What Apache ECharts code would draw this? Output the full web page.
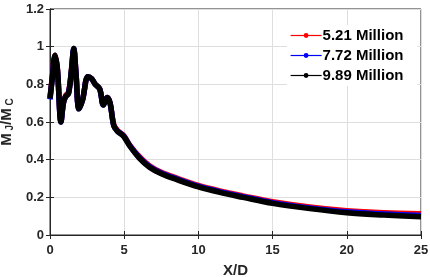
<!DOCTYPE html>
<html><head><meta charset="utf-8">
<script src="https://cdn.jsdelivr.net/npm/echarts@6/dist/echarts.min.js"></script>
<style>html,body{margin:0;padding:0;background:#fff}#c{width:430px;height:277px}</style>
</head><body><div id="c"></div>
<script>
var xVals = [0, 0.15, 0.34, 0.5, 0.74, 0.9, 1.05, 1.25, 1.45, 1.6, 1.75, 1.95, 2.2, 2.55, 2.8, 3.05, 3.35, 3.6, 3.85, 4.05, 4.3, 4.55, 4.8, 5.0, 5.4, 6, 6.7, 7.5, 8.5, 10, 11.5, 13, 15, 17.5, 20, 22.5, 25];
var red521 = [0.73, 0.835, 0.955, 0.88, 0.605, 0.70, 0.74, 0.76, 0.88, 0.985, 0.86, 0.675, 0.72, 0.84, 0.83, 0.80, 0.775, 0.695, 0.73, 0.70, 0.585, 0.555, 0.54, 0.525, 0.475, 0.418, 0.368, 0.333, 0.303, 0.263, 0.233, 0.208, 0.177, 0.149, 0.129, 0.118, 0.113];
var blue772 = [0.72, 0.83, 0.95, 0.875, 0.60, 0.70, 0.735, 0.755, 0.875, 0.99, 0.86, 0.67, 0.72, 0.84, 0.83, 0.80, 0.775, 0.69, 0.73, 0.70, 0.58, 0.552, 0.537, 0.522, 0.472, 0.414, 0.364, 0.329, 0.299, 0.259, 0.229, 0.204, 0.172, 0.144, 0.123, 0.111, 0.104];
var black989 = [0.725, 0.83, 0.955, 0.88, 0.60, 0.70, 0.735, 0.75, 0.88, 0.99, 0.86, 0.67, 0.72, 0.84, 0.83, 0.80, 0.775, 0.69, 0.73, 0.70, 0.58, 0.55, 0.535, 0.52, 0.47, 0.41, 0.36, 0.325, 0.295, 0.255, 0.225, 0.20, 0.168, 0.14, 0.118, 0.106, 0.097];
var seriesNames = ['5.21 Million', '7.72 Million', '9.89 Million'];
var xTicks = [0, 5, 10, 15, 20, 25];
var yTicks = [0, 0.2, 0.4, 0.6, 0.8, 1, 1.2];

function pairs(ys){ return xVals.map(function(x,i){ return [x, ys[i]]; }); }
var colors = ['#ff0000', '#0000ff', '#000000'];
var datasets = [red521, blue772, black989];
var txt = '#262626';
var font = 'Liberation Sans, Arial, sans-serif';

var series = datasets.map(function(d,i){
  return {
    name: seriesNames[i], type: 'line', data: pairs(d), smooth: 0.35,
    symbol: 'circle', symbolSize: 4, showSymbol: false,
    lineStyle: {color: colors[i], width: 5.5}, itemStyle: {color: colors[i]},
    z: 2 + i, animation: false
  };
});

var chart = echarts.init(document.getElementById('c'), null, {renderer: 'canvas'});
chart.setOption({
  animation: false,
  backgroundColor: '#fff',
  grid: {left: 50, right: 9, top: 9, bottom: 42, containLabel: false, outerBoundsMode: 'none',
         show: true, borderColor: '#262626', borderWidth: 1},
  legend: {
    data: seriesNames, orient: 'vertical', left: 287, top: 25,
    itemWidth: 31, itemHeight: 6, itemGap: 3,
    lineStyle: {width: 1.2},
    backgroundColor: '#fff', padding: [2, 14, 2, 3],
    textStyle: {color: '#000', fontFamily: font, fontWeight: 'bold', fontSize: 15, lineHeight: 17, padding: [0,0,0,-4]}
  },
  xAxis: [{
    type: 'value', min: 0, max: 25, interval: 5,
    name: 'X/D', nameLocation: 'middle', nameGap: 28,
    nameTextStyle: {color: txt, fontFamily: font, fontWeight: 'bold', fontSize: 15},
    axisLine: {show: true, lineStyle: {color: '#262626', width: 1}},
    axisTick: {show: true, inside: true, length: 4, lineStyle: {color: '#262626'}},
    axisLabel: {color: txt, fontFamily: font, fontWeight: 'bold', fontSize: 13, margin: 9,
      formatter: function(v){ return xTicks.indexOf(v) >= 0 ? String(v) : ''; }},
    splitLine: {show: true, lineStyle: {color: '#dedede', width: 1}}
  }, {
    type: 'value', position: 'top', min: 0, max: 25, interval: 5,
    axisLine: {show: true, lineStyle: {color: '#262626'}},
    axisTick: {show: true, inside: true, length: 4, lineStyle: {color: '#262626'}},
    axisLabel: {show: false}, splitLine: {show: false}
  }],
  yAxis: [{
    type: 'value', min: 0, max: 1.2, interval: 0.2,
    name: '{m|M}{s| J}{m|/M}{s| C}', nameLocation: 'middle', nameGap: 30, nameRotate: 90,
    nameTextStyle: {color: txt, fontFamily: font, fontWeight: 'bold',
      rich: {m: {fontSize: 15, fontWeight: 'bold', color: txt, fontFamily: font},
             s: {fontSize: 10, fontWeight: 'bold', color: txt, fontFamily: font, verticalAlign: 'bottom', padding: [7,0,0,0]}}},
    axisLine: {show: true, lineStyle: {color: '#262626'}},
    axisTick: {show: true, inside: true, length: 4, lineStyle: {color: '#262626'}},
    axisLabel: {color: txt, fontFamily: font, fontWeight: 'bold', fontSize: 13, margin: 6,
      formatter: function(v){ var r = Math.round(v*10)/10; return yTicks.indexOf(r) >= 0 ? String(r) : ''; }},
    splitLine: {show: true, lineStyle: {color: '#dedede', width: 1}}
  }, {
    type: 'value', position: 'right', min: 0, max: 1.2, interval: 0.2,
    axisLine: {show: true, lineStyle: {color: '#262626'}},
    axisTick: {show: true, inside: true, length: 4, lineStyle: {color: '#262626'}},
    axisLabel: {show: false}, splitLine: {show: false}
  }],
  series: series
});
</script></body></html>
